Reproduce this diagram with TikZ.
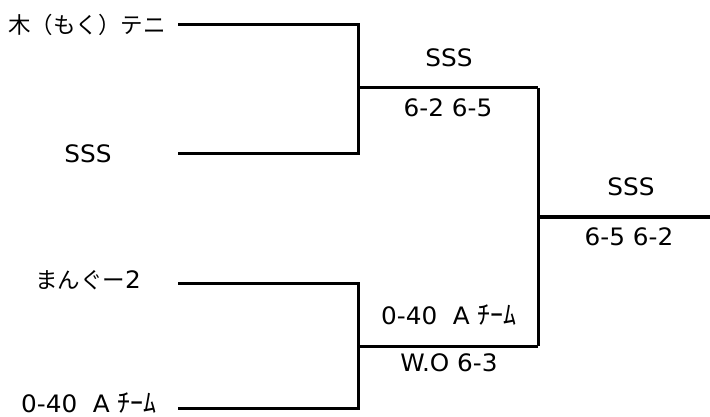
\documentclass[tikz,border=0pt]{standalone}
\usepackage{fontspec}
\setmainfont{DejaVu Sans}[FakeStretch=1.03]
\newfontfamily\jp{Noto Sans CJK JP}
\newcommand\kana[1]{{\jp\fontsize{26}{30}\selectfont #1}}
\begin{document}
\begin{tikzpicture}[x=1pt,y=-1pt,
  br/.style={line width=3pt, line join=miter},
  lbl/.style={inner sep=0pt, font=\fontsize{24}{28}\selectfont},
  jlbl/.style={inner sep=0pt, font=\jp\fontsize{22.5}{26}\selectfont}]
\useasboundingbox (0,0) rectangle (710,417);
% bracket points
\coordinate (a1) at (178,25);  \coordinate (a2) at (358,25);
\coordinate (b1) at (178,154); \coordinate (b2) at (358,154);
\coordinate (c1) at (178,283); \coordinate (c2) at (358,283);
\coordinate (d1) at (178,408); \coordinate (d2) at (358,408);
\coordinate (m1) at (358,88);  \coordinate (m1e) at (538,88);
\coordinate (m2) at (358,346); \coordinate (m2e) at (538,346);
\coordinate (f) at (538,217);  \coordinate (fe) at (710,217);
\draw[br] (a1) -- (a2) -- (b2) -- (b1);
\draw[br] (c1) -- (c2) -- (d2) -- (d1);
\draw[br] (m1) -- (m1e);
\draw[br] (m2) -- (m2e);
\draw[br] (m1e) -- (m2e);
\draw[br] (f) -- (fe);
% labels
\node[jlbl, anchor=east] (t1) at (166,25) {木（もく）テニ};
\node[lbl] (t2) at (88,154) {SSS};
\node[jlbl, anchor=base] (t3) at (88,288) {まんぐー{\rmfamily\fontsize{24}{28}\selectfont 2}};
\node[lbl] (t4) at (89,403) {0-40~~A \kana{ﾁｰﾑ}};
\node[lbl] (w1) at (449,58) {SSS};
\node[lbl] (s1) at (448,108) {6-2 6-5};
\node[lbl] (w2) at (449,315) {0-40~~A \kana{ﾁｰﾑ}};
\node[lbl] (s2) at (449,363) {W.O 6-3};
\node[lbl] (w3) at (631,187) {SSS};
\node[lbl] (s3) at (629,237) {6-5 6-2};
\end{tikzpicture}
\end{document}
